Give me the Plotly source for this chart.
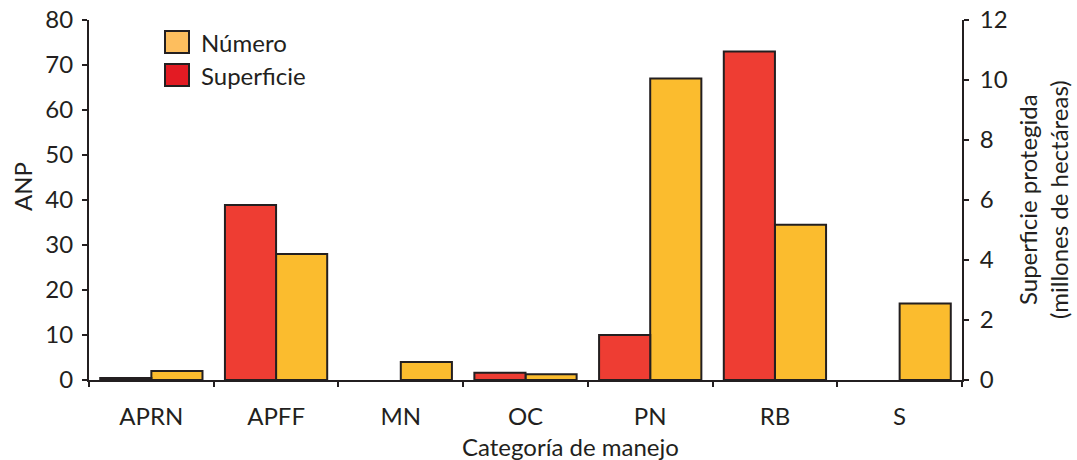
import plotly.graph_objects as go

# Data: protected natural areas (ANP) by management category
categorias = ["APRN", "APFF", "MN", "OC", "PN", "RB", "S"]
numero_anp = [2, 28, 4, 1.3, 67, 34.5, 17]                 # count, left axis
superficie_mha = [0.07, 5.83, None, 0.24, 1.5, 10.95, None]  # million ha, right axis

ROJO = "#EE3D33"
NARANJA = "#FBBC2E"
ROJO_LEY = "#E31B23"
NARANJA_LEY = "#FDBE5E"
NEGRO = "#231F20"
FUENTE = "Lato, 'Open Sans', sans-serif"
TAM = 24

# Plot area in pixels
L, R, T, B = 89, 962, 20, 380
W, H = 1077, 460


def px_x(x):
    return (x - L) / (R - L)


def px_y(y):
    return (B - y) / (B - T)


fig = go.Figure()
fig.add_trace(go.Bar(
    x=categorias, y=superficie_mha, name="Superficie", yaxis="y2",
    offsetgroup="sup", marker=dict(color=ROJO, line=dict(color=NEGRO, width=2)),
    showlegend=False,
))
fig.add_trace(go.Bar(
    x=categorias, y=numero_anp, name="Número", yaxis="y",
    offsetgroup="num", marker=dict(color=NARANJA, line=dict(color=NEGRO, width=2)),
    showlegend=False,
))

# Legend drawn as swatches + labels
leyenda = [("Número", NARANJA_LEY, 31, 53), ("Superficie", ROJO_LEY, 64, 86)]
for texto, color, y0, y1 in leyenda:
    fig.add_shape(type="rect", xref="paper", yref="paper",
                  x0=px_x(165), x1=px_x(189), y0=px_y(y1), y1=px_y(y0),
                  fillcolor=color, line=dict(color=NEGRO, width=2))
    fig.add_annotation(xref="paper", yref="paper",
                       x=px_x(199), y=px_y((y0 + y1) / 2),
                       text=texto, showarrow=False, xanchor="left", yanchor="middle",
                       font=dict(family=FUENTE, size=TAM, color=NEGRO))

# Axis titles
titulos = [
    ("Categoría de manejo", 570, 446, 0),
    ("ANP", 22, 187, -90),
    ("Superficie protegida<br>(millones de hectáreas)", 1043, 200, -90),
]
for texto, x, y, ang in titulos:
    fig.add_annotation(xref="paper", yref="paper", x=px_x(x), y=px_y(y),
                       text=texto, showarrow=False, textangle=ang,
                       xanchor="center", yanchor="middle",
                       font=dict(family=FUENTE, size=TAM, color=NEGRO))

eje = dict(showline=True, linecolor=NEGRO, linewidth=2, ticks="outside",
           tickcolor=NEGRO, tickwidth=2, ticklen=5, showgrid=False, zeroline=False,
           automargin=False, tickfont=dict(family=FUENTE, size=TAM, color=NEGRO))

# Inner halves of the crossing tick marks
interior = dict(showline=False, ticks="inside", tickcolor=NEGRO, tickwidth=2,
                ticklen=5, showgrid=False, zeroline=False, showticklabels=False,
                automargin=False)

fig.update_layout(
    width=W, height=H,
    margin=dict(l=L, r=W - R, t=T, b=H - B),
    paper_bgcolor="white", plot_bgcolor="white",
    barmode="group", bargap=0.18, bargroupgap=0,
    xaxis=dict(**eje, tickson="boundaries", ticklabelstandoff=14),
    xaxis2=dict(**interior, overlaying="x", anchor="y", side="bottom",
                range=[-0.5, 6.5], tickvals=[0.5, 1.5, 2.5, 3.5, 4.5, 5.5]),
    yaxis=dict(**eje, range=[0, 80], dtick=10, ticklabelstandoff=4),
    yaxis2=dict(**eje, range=[0, 12], dtick=2, overlaying="y", side="right",
                ticklabelstandoff=6),
    yaxis3=dict(**interior, overlaying="y", side="left", anchor="x",
                range=[0, 80], dtick=10),
    yaxis4=dict(**interior, overlaying="y", side="right", anchor="x",
                range=[0, 12], dtick=2),
)

fig.write_html("out.html")
